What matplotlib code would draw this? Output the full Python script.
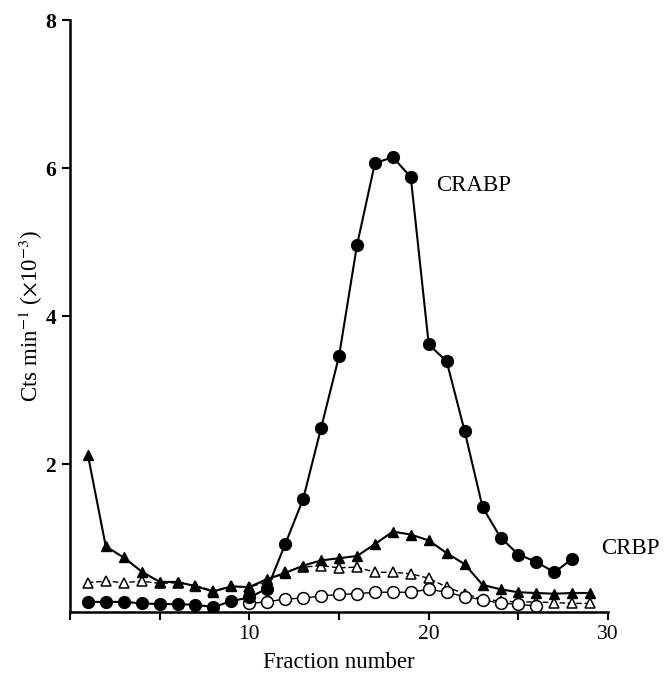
import matplotlib
matplotlib.use('Agg')
import matplotlib.pyplot as plt
from matplotlib.ticker import MultipleLocator

plt.rcParams['font.family'] = ['Liberation Serif', 'DejaVu Serif']
plt.rcParams['mathtext.fontset'] = 'stix'

# filled circles (CRABP)
crabp_x = list(range(1, 29))
crabp_y = [0.14, 0.14, 0.14, 0.12, 0.11, 0.11, 0.10, 0.07, 0.15, 0.20,
           0.32, 0.92, 1.53, 2.49, 3.46, 4.96, 6.07, 6.15, 5.88, 3.62,
           3.39, 2.45, 1.42, 1.01, 0.78, 0.68, 0.54, 0.72]

# filled triangles (CRBP)
crbp_x = list(range(1, 30))
crbp_y = [2.13, 0.89, 0.74, 0.55, 0.41, 0.41, 0.35, 0.28, 0.35, 0.34,
          0.45, 0.53, 0.63, 0.70, 0.73, 0.76, 0.92, 1.09, 1.05, 0.97,
          0.80, 0.65, 0.37, 0.31, 0.27, 0.26, 0.25, 0.26, 0.26]

# open triangles
otri_x = list(range(1, 30))
otri_y = [0.40, 0.42, 0.40, 0.42, 0.39, 0.40, 0.36, 0.29, 0.35, 0.34,
          0.41, 0.55, 0.61, 0.63, 0.60, 0.61, 0.54, 0.54, 0.52, 0.46,
          0.34, 0.25, 0.18, 0.15, 0.14, 0.14, 0.13, 0.12, 0.12]

# open circles
ocir_x = list(range(10, 27))
ocir_y = [0.12, 0.14, 0.18, 0.19, 0.22, 0.24, 0.25, 0.27, 0.27, 0.27,
          0.31, 0.27, 0.21, 0.17, 0.12, 0.11, 0.08]

fig = plt.figure(figsize=(6.72, 6.78), dpi=100)
ax = fig.add_axes([0.104, 0.097, 0.801, 0.873])

ax.plot(otri_x, otri_y, color='black', lw=1.0, ls=(0, (4, 2)), marker='^',
        ms=7.5, mfc='white', mec='black', mew=1.1, zorder=2)
ax.plot(ocir_x, ocir_y, color='black', lw=1.0, marker='o',
        ms=8.5, mfc='white', mec='black', mew=1.1, zorder=2)
ax.plot(crbp_x, crbp_y, color='black', lw=1.5, marker='^',
        ms=7.5, mfc='black', mec='black', zorder=3)
ax.plot(crabp_x, crabp_y, color='black', lw=1.5, marker='o',
        ms=8.5, mfc='black', mec='black', zorder=3)

ax.text(20.4, 5.77, 'CRABP', fontsize=16.5, va='center', ha='left')
ax.text(29.6, 0.86, 'CRBP', fontsize=16.5, va='center', ha='left', clip_on=False)

ax.set_xlim(0, 30)
ax.set_ylim(0, 8)
ax.set_xticks([10, 20, 30])
ax.xaxis.set_minor_locator(MultipleLocator(5))
ax.set_yticks([2, 4, 6, 8])

for s in ['top', 'right']:
    ax.spines[s].set_visible(False)
for s in ['left', 'bottom']:
    ax.spines[s].set_linewidth(1.8)

ax.tick_params(axis='both', which='both', direction='out', length=6, width=1.5)
ax.tick_params(axis='x', labelsize=15.5, pad=3)
ax.tick_params(axis='y', labelsize=15.5, pad=4)
for lab in ax.get_yticklabels():
    lab.set_fontweight('bold')

ax.set_xlabel('Fraction number', fontsize=16.5, labelpad=6)
ax.set_ylabel(r'Cts min$^{-1}$ ($\times$10$^{-3}$)', fontsize=16.5, labelpad=0)

fig.savefig('out.png', dpi=100)
